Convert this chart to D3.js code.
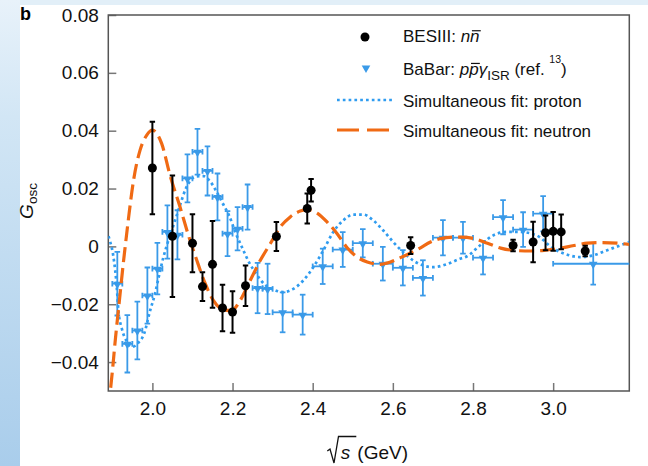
<!DOCTYPE html>
<html><head><meta charset="utf-8">
<script src="https://cdn.jsdelivr.net/npm/d3@7"></script>
<style>
html,body{margin:0;padding:0;background:#fff;}
svg{display:block;font-family:"Liberation Sans",Arial,Helvetica,sans-serif;}
</style></head><body>
<svg id="chart" width="648" height="466"></svg>
<script>
// ---------- data ----------
const xTicks = [2.0, 2.2, 2.4, 2.6, 2.8, 3.0];
const xTickLabels = ["2.0", "2.2", "2.4", "2.6", "2.8", "3.0"];
const yTicks = [-0.04, -0.02, 0, 0.02, 0.04, 0.06, 0.08];
const yTickLabels = ["\u22120.04", "\u22120.02", "0", "0.02", "0.04", "0.06", "0.08"];

// BESIII n nbar
const besX   = [2.0, 2.05, 2.1, 2.125, 2.15, 2.175, 2.2, 2.2324, 2.3094, 2.3864, 2.396, 2.6444, 2.9, 2.95, 2.981, 3.0, 3.02, 3.08];
const besG   = [0.0271, 0.0035, 0.0011, -0.0139, -0.0062, -0.0213, -0.0227, -0.0136, 0.0034, 0.0131, 0.0194, 0.0003, 0.0003, 0.0015, 0.0047, 0.0052, 0.0050, -0.0016];
const besErr = [0.016, 0.021, 0.010, 0.005, 0.015, 0.008, 0.0072, 0.007, 0.005, 0.0052, 0.0039, 0.0029, 0.002, 0.007, 0.006, 0.0067, 0.006, 0.0018];

// BaBar p pbar gamma_ISR
const babX    = [1.9125, 1.9375, 1.9625, 1.9875, 2.0125, 2.0375, 2.0625, 2.0875, 2.1125, 2.1375, 2.1625, 2.1875, 2.2125, 2.2375, 2.2625, 2.2875,
                 2.325, 2.375, 2.425, 2.475, 2.525, 2.575, 2.625, 2.675, 2.725, 2.775, 2.825, 2.875, 2.925, 2.975, 3.1];
const babXErr = [0.0125, 0.0125, 0.0125, 0.0125, 0.0125, 0.0125, 0.0125, 0.0125, 0.0125, 0.0125, 0.0125, 0.0125, 0.0125, 0.0125, 0.0125, 0.0125,
                 0.025, 0.025, 0.025, 0.025, 0.025, 0.025, 0.025, 0.025, 0.025, 0.025, 0.025, 0.025, 0.025, 0.025, 0.1];
const babG    = [-0.0129, -0.0337, -0.0291, -0.0170, -0.0077, 0.0050, 0.0040, 0.0235, 0.0327, 0.0261, 0.0171, 0.0044, 0.0061, 0.0136, -0.0144, -0.0147,
                 -0.0228, -0.0236, -0.0069, -0.0011, 0.0011, -0.0060, -0.0074, -0.0109, 0.0030, 0.0030, -0.0039, 0.0101, 0.0058, 0.0113, -0.0060];
const babErr  = [0.011, 0.0099, 0.010, 0.0097, 0.0089, 0.0092, 0.0085, 0.0083, 0.0079, 0.0085, 0.0081, 0.0078, 0.0075, 0.0078, 0.0087, 0.0087,
                 0.0069, 0.0069, 0.0061, 0.0060, 0.0049, 0.0058, 0.0061, 0.0061, 0.0061, 0.0055, 0.0058, 0.0059, 0.0060, 0.0061, 0.0072];

// Simultaneous fit: proton
const protonX = [1.8905, 1.8945, 1.9027, 1.9112, 1.9152, 1.9237, 1.9362, 1.9506, 1.9651, 1.9793, 1.9943, 2.0067, 2.015, 2.0274, 2.0359, 2.0484,
                 2.0591, 2.0691, 2.0835, 2.094, 2.1107, 2.1272, 2.1439, 2.1606, 2.175, 2.1913, 2.2082, 2.2249, 2.2411, 2.2603, 2.281, 2.3017,
                 2.3267, 2.3516, 2.3766, 2.4015, 2.4264, 2.4514, 2.4763, 2.5012, 2.5262, 2.5511, 2.5761, 2.601, 2.6259, 2.6509, 2.6758, 2.7007,
                 2.7342, 2.7673, 2.784, 2.8172, 2.8504, 2.8838, 2.917, 2.9586, 3.0, 3.0334, 3.0666, 3.0998, 3.1332, 3.1664, 3.19];
const protonG = [0.0035, 0.0017, -0.0035, -0.0142, -0.0222, -0.0284, -0.0329, -0.0347, -0.0333, -0.0302, -0.0222, -0.0163, -0.0111, -0.0038, 0.0003, 0.0055,
                 0.0100, 0.0143, 0.0200, 0.0226, 0.0242, 0.0243, 0.0225, 0.0188, 0.0150, 0.0107, 0.0045, -0.0007, -0.0055, -0.0097, -0.0133, -0.0149,
                 -0.0158, -0.0147, -0.0118, -0.0072, -0.0014, 0.0050, 0.0090, 0.0110, 0.0110, 0.0090, 0.0055, 0.0015, -0.0020, -0.0049, -0.0066, -0.0072,
                 -0.0062, -0.0043, -0.0035, 0.0003, 0.0038, 0.0050, 0.0050, 0.0038, -0.0007, -0.0028, -0.0037, -0.0031, -0.0014, 0.0003, 0.0015];

// Simultaneous fit: neutron
const neutronX = [1.889, 1.895, 1.901, 1.907, 1.9175, 1.9277, 1.936, 1.942, 1.9526, 1.9693, 1.986, 2.0, 2.023, 2.044, 2.069, 2.09, 2.111, 2.132,
                  2.152, 2.177, 2.198, 2.219, 2.244, 2.269, 2.294, 2.319, 2.344, 2.369, 2.386, 2.411, 2.436, 2.461, 2.486, 2.511, 2.536, 2.569,
                  2.594, 2.619, 2.644, 2.669, 2.694, 2.719, 2.752, 2.77, 2.803, 2.836, 2.869, 2.903, 2.944, 2.977, 3.01, 3.052, 3.085, 3.118, 3.16, 3.19];
const neutronG = [-0.056, -0.050, -0.042, -0.033, -0.019, -0.0055, 0.0045, 0.0115, 0.0225, 0.0333, 0.0385, 0.0402, 0.0356, 0.0246, 0.0136, 0.0038, -0.0049, -0.0129,
                  -0.0187, -0.0219, -0.0222, -0.0187, -0.0118, -0.0049, 0.0009, 0.0067, 0.0102, 0.0122, 0.0127, 0.0115, 0.0084, 0.0044, -0.0005, -0.0037, -0.0054, -0.0062,
                  -0.0054, -0.0039, -0.0023, -0.0005, 0.0015, 0.0027, 0.0032, 0.0032, 0.0027, 0.0011, -0.0006, -0.0014, -0.0016, -0.0014, -0.0008, 0.0003, 0.0011, 0.0013, 0.0011, 0.0007];

// ---------- drawing ----------
const BLUE = "#3a9ae8", DOT = "#2f9cf0", ORANGE = "#f06a14", AXIS = "#555";
const svg = d3.select("#chart");
const L = 108.3, R = 629.3, T = 15, B = 391;
const x = d3.scaleLinear().domain([1.89, 3.19]).range([L, R]);
const y = d3.scaleLinear().domain([-0.05, 0.08]).range([B, T]);

const defs = svg.append("defs");
const lg = defs.append("linearGradient").attr("id", "leftGrad").attr("x1", 0).attr("y1", 0).attr("x2", 0).attr("y2", 1);
lg.append("stop").attr("offset", "0%").attr("stop-color", "#e8f2fa");
lg.append("stop").attr("offset", "25%").attr("stop-color", "#d2e6f5");
lg.append("stop").attr("offset", "100%").attr("stop-color", "#a9cdeb");
defs.append("clipPath").attr("id", "plotClip").append("rect")
  .attr("x", L).attr("y", T).attr("width", R - L).attr("height", B - T);

svg.append("rect").attr("x", 0).attr("y", 0).attr("width", 648).attr("height", 5).attr("fill", "#e2eff8");
svg.append("rect").attr("x", 0).attr("y", 0).attr("width", 20).attr("height", 466).attr("fill", "url(#leftGrad)");

// panel label
svg.append("text").attr("x", 20).attr("y", 19.5).attr("font-size", 18).attr("font-weight", "bold").text("b");

// axes
const yAxis = d3.axisLeft(y).tickValues(yTicks).tickSize(-8).tickSizeOuter(0).tickPadding(9.5)
  .tickFormat((d, i) => yTickLabels[i]);
const gy = svg.append("g").attr("transform", `translate(${L},0)`).call(yAxis);
const xAxis = d3.axisBottom(x).tickValues(xTicks).tickSize(-8).tickSizeOuter(0).tickPadding(10.5)
  .tickFormat((d, i) => xTickLabels[i]);
const gx = svg.append("g").attr("transform", `translate(0,${B})`).call(xAxis);
[gx, gy].forEach(g => {
  g.select(".domain").remove();
  g.selectAll(".tick line").attr("stroke", "#777").attr("stroke-width", 1.5);
  g.selectAll(".tick text").attr("font-size", 19).attr("fill", "#111")
    .attr("font-family", '"Liberation Sans",Arial,sans-serif');
});
svg.append("rect").attr("x", L).attr("y", T).attr("width", R - L).attr("height", B - T)
  .attr("fill", "none").attr("stroke", AXIS).attr("stroke-width", 1.5);

// axis titles
const yl = svg.append("text").attr("transform", "translate(33.3,201) rotate(-90)")
  .attr("text-anchor", "middle").attr("font-size", 19).attr("fill", "#111");
yl.append("tspan").attr("font-style", "italic").text("G");
yl.append("tspan").attr("font-size", 13.5).attr("dy", 3.5).text("osc");

const xl = svg.append("g").attr("transform", `translate(${(L + R) / 2},0)`);
xl.append("path").attr("d", "M-41.5,451 L-38.8,449 L-34.8,463 L-30.3,436.5 L-12.5,436.5")
  .attr("fill", "none").attr("stroke", "#111").attr("stroke-width", 1.3);
xl.append("text").attr("x", -28).attr("y", 458.5).attr("font-size", 19).attr("font-style", "italic").attr("fill", "#111").text("s");
xl.append("text").attr("x", -11.5).attr("y", 458.5).attr("font-size", 19).attr("fill", "#111").text("(GeV)");

// plot content
const plot = svg.append("g").attr("clip-path", "url(#plotClip)");

// BaBar points
const bab = babX.map((v, i) => ({ x: v, xe: babXErr[i], g: babG[i], e: babErr[i] }));
const gb = plot.append("g").attr("stroke", BLUE).attr("stroke-width", 1.8).attr("fill", "none");
bab.forEach(d => {
  const cx = x(d.x), cy = y(d.g), y1 = y(d.g + d.e), y2 = y(d.g - d.e), x1 = x(d.x - d.xe), x2 = x(d.x + d.xe);
  gb.append("line").attr("x1", cx).attr("x2", cx).attr("y1", y1).attr("y2", y2);
  gb.append("line").attr("x1", cx - 2.8).attr("x2", cx + 2.8).attr("y1", y1).attr("y2", y1);
  gb.append("line").attr("x1", cx - 2.8).attr("x2", cx + 2.8).attr("y1", y2).attr("y2", y2);
  gb.append("line").attr("x1", x1).attr("x2", x2).attr("y1", cy).attr("y2", cy);
  gb.append("line").attr("x1", x1).attr("x2", x1).attr("y1", cy - 2.8).attr("y2", cy + 2.8);
  gb.append("line").attr("x1", x2).attr("x2", x2).attr("y1", cy - 2.8).attr("y2", cy + 2.8);
});
const tri = d3.symbol().type(d3.symbolTriangle).size(32);
plot.append("g").selectAll("path").data(bab).join("path")
  .attr("d", tri).attr("fill", BLUE)
  .attr("transform", d => `translate(${x(d.x)},${y(d.g) + 0.5}) rotate(180)`);

// fit curves
const line = d3.line().x(d => x(d[0])).y(d => y(d[1])).curve(d3.curveMonotoneX);
plot.append("path").datum(protonX.map((v, i) => [v, protonG[i]]))
  .attr("d", line).attr("fill", "none").attr("stroke", DOT).attr("stroke-width", 2.7)
  .attr("stroke-dasharray", "2.7,3.1");
plot.append("path").datum(neutronX.map((v, i) => [v, neutronG[i]]))
  .attr("d", line).attr("fill", "none").attr("stroke", ORANGE).attr("stroke-width", 3.2)
  .attr("stroke-dasharray", "15,6");

// BESIII points
const bes = besX.map((v, i) => ({ x: v, g: besG[i], e: besErr[i] }));
const gbe = plot.append("g").attr("stroke", "#000").attr("stroke-width", 2);
bes.forEach(d => {
  const cx = x(d.x), y1 = y(d.g + d.e), y2 = y(d.g - d.e);
  gbe.append("line").attr("x1", cx).attr("x2", cx).attr("y1", y1).attr("y2", y2);
  gbe.append("line").attr("x1", cx - 2.7).attr("x2", cx + 2.7).attr("y1", y1).attr("y2", y1);
  gbe.append("line").attr("x1", cx - 2.7).attr("x2", cx + 2.7).attr("y1", y2).attr("y2", y2);
});
plot.append("g").selectAll("circle").data(bes).join("circle")
  .attr("cx", d => x(d.x)).attr("cy", d => y(d.g)).attr("r", 4.5).attr("fill", "#000");

// legend
const leg = svg.append("g");
function richText(xp, yp, segs, size) {
  const t = leg.append("text").attr("x", xp).attr("y", yp).attr("font-size", size).attr("fill", "#111");
  let cur = 0;
  segs.forEach(s => {
    const sh = s.shift || 0;
    const ts = t.append("tspan").text(s.t).attr("dy", sh - cur);
    cur = sh;
    if (s.it) ts.attr("font-style", "italic");
    if (s.size) ts.attr("font-size", s.size);
  });
  let idx = 0;
  segs.forEach(s => {
    if (s.bar) {
      const n = t.node();
      const a = n.getStartPositionOfChar(idx).x, b = n.getEndPositionOfChar(idx + s.t.length - 1).x;
      leg.append("line").attr("x1", a + 1.8).attr("x2", b + 1.2)
        .attr("y1", yp - 0.68 * size).attr("y2", yp - 0.68 * size)
        .attr("stroke", "#111").attr("stroke-width", 1.2);
    }
    idx += s.t.length;
  });
}
leg.append("circle").attr("cx", 365).attr("cy", 37).attr("r", 4.5).attr("fill", "#000");
richText(403, 42.3, [{ t: "BESIII: " }, { t: "n", it: 1 }, { t: "n", it: 1, bar: 1 }], 17);
leg.append("path").attr("d", tri).attr("fill", BLUE).attr("transform", "translate(366,68) rotate(180)");
richText(403, 75, [{ t: "BaBar: " }, { t: "p", it: 1 }, { t: "p", it: 1, bar: 1 }, { t: "\u03b3", it: 1 },
  { t: "ISR", size: 13.5, shift: 5 }, { t: " (ref. ", shift: 0 }, { t: "13", size: 10.5, shift: -12.5 }, { t: ")", shift: 0 }], 17);
leg.append("line").attr("x1", 337).attr("x2", 393).attr("y1", 100).attr("y2", 100)
  .attr("stroke", DOT).attr("stroke-width", 2.7).attr("stroke-dasharray", "2.7,3.1");
richText(403, 107.3, [{ t: "Simultaneous fit: proton" }], 17);
leg.append("line").attr("x1", 337).attr("x2", 393).attr("y1", 130).attr("y2", 130)
  .attr("stroke", ORANGE).attr("stroke-width", 3.2).attr("stroke-dasharray", "22,8");
richText(403, 137.3, [{ t: "Simultaneous fit: neutron" }], 17);
</script></body></html>
